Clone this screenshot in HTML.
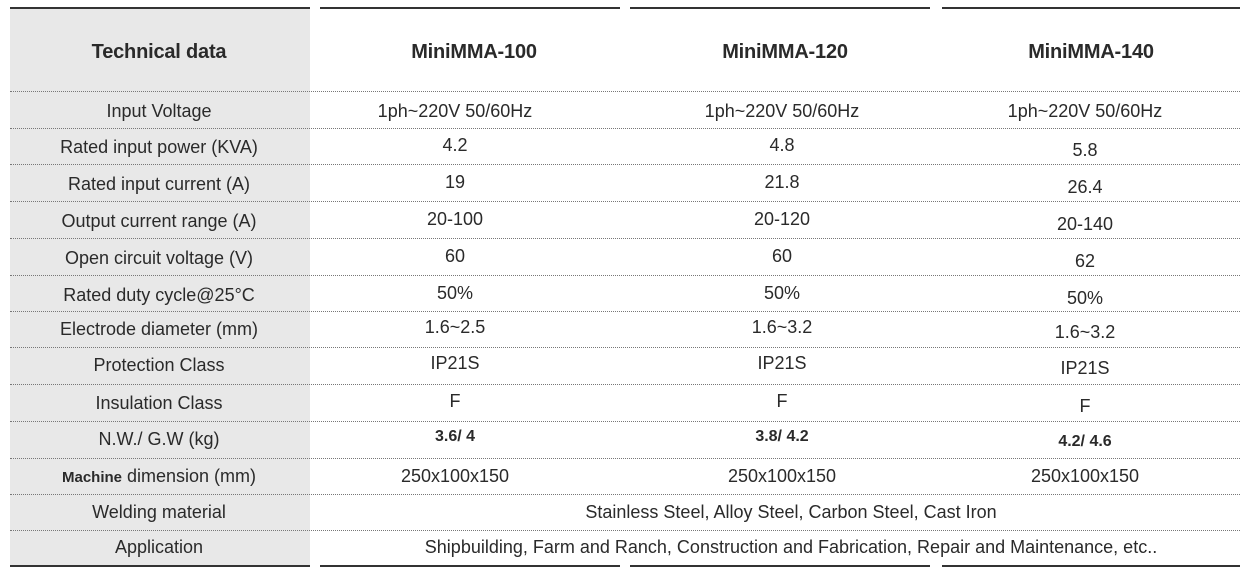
<!DOCTYPE html>
<html><head><meta charset="utf-8"><style>
body{margin:0;width:1249px;height:571px;background:#fff;position:relative;font-family:"Liberation Sans",sans-serif;color:#2a2a2a;overflow:hidden}
.g{position:absolute;left:10px;top:8px;width:300px;height:558px;background:#e8e8e8}
.tl{position:absolute;height:2px;background:#333}
.sep{position:absolute;left:10px;width:1230px;border-top:1px dotted #777;height:0}
.c{position:absolute;transform:translateX(-50%);white-space:nowrap;font-size:18px;line-height:20px}
.h{font-weight:bold;font-size:20px;letter-spacing:-0.2px}
</style></head><body>
<div class="g"></div>
<div class="tl" style="left:10px;top:7px;width:300px"></div>
<div class="tl" style="left:320px;top:7px;width:300px"></div>
<div class="tl" style="left:630px;top:7px;width:300px"></div>
<div class="tl" style="left:942px;top:7px;width:298px"></div>
<div class="tl" style="left:10px;top:565px;width:300px"></div>
<div class="tl" style="left:320px;top:565px;width:300px"></div>
<div class="tl" style="left:630px;top:565px;width:300px"></div>
<div class="tl" style="left:942px;top:565px;width:298px"></div>
<div id="seps"></div>
<div class="c h" style="left:159px;top:42px">Technical data</div>
<div class="c h" style="left:474px;top:42px">MiniMMA-100</div>
<div class="c h" style="left:785px;top:42px">MiniMMA-120</div>
<div class="c h" style="left:1091px;top:42px">MiniMMA-140</div>
<div id="rows"></div>
<script>
const seps=[91,128,164,201,238,275,311,347,384,421,458,494,530];
const s=document.getElementById('seps');
seps.forEach(y=>{const d=document.createElement('div');d.className='sep';d.style.top=y+'px';


s.appendChild(d);});
const rows=[
["Input Voltage","1ph~220V 50/60Hz","1ph~220V 50/60Hz","1ph~220V 50/60Hz",101],
["Rated input power (KVA)","4.2","4.8","5.8",137],
["Rated input current (A)","19","21.8","26.4",174],
["Output current range (A)","20-100","20-120","20-140",211],
["Open circuit voltage (V)","60","60","62",248],
["Rated duty cycle@25°C","50%","50%","50%",285],
["Electrode diameter (mm)","1.6~2.5","1.6~3.2","1.6~3.2",319],
["Protection Class","IP21S","IP21S","IP21S",355],
["Insulation Class","F","F","F",393],
["N.W./ G.W (kg)","3.6/ 4","3.8/ 4.2","4.2/ 4.6",429],
["<b style='font-size:15px'>Machine</b> dimension (mm)","250x100x150","250x100x150","250x100x150",466]];
const r=document.getElementById('rows');
const xs=[455,782,1085];
rows.forEach((row,i)=>{
 const l=document.createElement('div');l.className='c';l.style.left='159px';l.style.top=row[4]+'px';l.innerHTML=row[0];
 
 
 r.appendChild(l);
 for(let k=0;k<3;k++){const d=document.createElement('div');d.className='c';d.style.left=xs[k]+'px';
  d.style.top=(row[4]-(k<2&&i>0&&i<10?2:0)+(k==2&&i>0&&i<10?3:0))+'px';d.textContent=row[k+1];
  if(i==9){d.style.fontWeight='bold';d.style.fontSize='16px';}
  
  
  r.appendChild(d);}
});
[["Welding material","Stainless Steel, Alloy Steel, Carbon Steel, Cast Iron",502],
 ["Application","Shipbuilding, Farm and Ranch, Construction and Fabrication, Repair and Maintenance, etc..",537]].forEach(row=>{
 const l=document.createElement('div');l.className='c';l.style.left='159px';l.style.top=row[2]+'px';l.textContent=row[0];
 
 
 r.appendChild(l);
 const d=document.createElement('div');d.className='c';d.style.left='791px';d.style.top=row[2]+'px';d.textContent=row[1];
 
 
 r.appendChild(d);
});
</script>
</body></html>
